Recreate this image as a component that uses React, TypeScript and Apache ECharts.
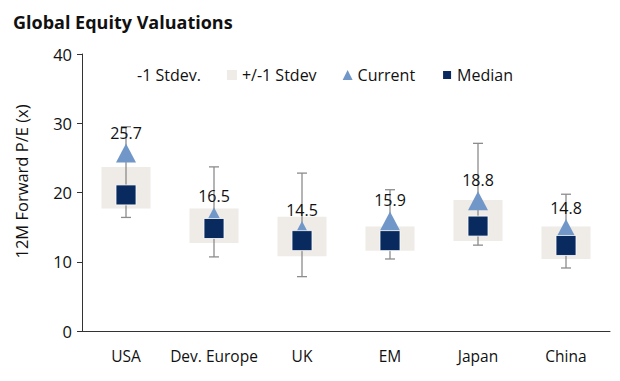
import React, { useEffect, useRef } from "react";
import * as echarts from "echarts";

const categories = ["USA", "Dev. Europe", "UK", "EM", "Japan", "China"];
const boxLow = [17.7, 12.7, 10.8, 11.6, 13.0, 10.4];
const boxHigh = [23.7, 17.7, 16.5, 15.1, 18.9, 15.1];
const whiskerLow = [16.4, 10.7, 7.85, 10.4, 12.4, 9.1];
const whiskerHigh = [29.5, 23.7, 22.8, 20.4, 27.1, 19.75];
const current = [25.7, 16.5, 14.5, 15.9, 18.8, 14.8];
const median = [19.65, 14.8, 13.05, 13.05, 15.15, 12.35];
const yTicks = { min: 0, max: 40, interval: 10 };

const FONT = "Open Sans";

export default function App() {
  const ref = useRef<HTMLDivElement>(null);
  useEffect(() => {
    if (!ref.current) return;
    const chart = echarts.init(ref.current, null, { renderer: "svg" });
    const boxRange = boxHigh.map((h, i) => +(h - boxLow[i]).toFixed(2));
    chart.setOption({
      animation: false,
      backgroundColor: "#fff",
      textStyle: { fontFamily: FONT },
      title: {
        text: "Global Equity Valuations",
        left: 8,
        top: 8,
        textStyle: { fontFamily: FONT, fontSize: 18, fontWeight: "bold", color: "#111" },
      },
      legend: {
        top: 62,
        left: 117,
        itemWidth: 10,
        itemHeight: 10,
        itemGap: 26,
        textStyle: { fontFamily: FONT, fontSize: 16, color: "#111" },
        data: [
          { name: "-1 Stdev.", icon: "rect" },
          { name: "+/-1 Stdev", icon: "rect" },
          { name: "Current", icon: "triangle" },
          { name: "Median", icon: "rect" },
        ],
      },
      grid: { left: 82, right: 10, top: 54, bottom: 50 },
      xAxis: {
        type: "category",
        data: categories,
        axisLine: { lineStyle: { color: "#333", width: 1 } },
        axisTick: { show: false },
        axisLabel: { interval: 0, fontFamily: FONT, fontSize: 15.5, color: "#111", margin: 17 },
      },
      yAxis: {
        type: "value",
        min: yTicks.min,
        max: yTicks.max,
        interval: yTicks.interval,
        name: "12M Forward P/E (x)",
        nameLocation: "middle",
        nameGap: 52,
        nameTextStyle: { fontFamily: FONT, fontSize: 16.5, color: "#111", padding: [0, 0, 0, 22] },
        axisLine: { show: true, lineStyle: { color: "#333", width: 1 } },
        axisTick: { show: true, length: 5, lineStyle: { color: "#333" } },
        splitLine: { show: false },
        axisLabel: { fontFamily: FONT, fontSize: 16.5, color: "#111", margin: 10 },
      },
      series: [
        {
          name: "-1 Stdev.",
          type: "bar",
          stack: "box",
          data: boxLow,
          barWidth: 49,
          itemStyle: { color: "rgba(0,0,0,0)" },
          silent: true,
        },
        {
          name: "+/-1 Stdev",
          type: "bar",
          stack: "box",
          data: boxRange,
          barWidth: 49,
          itemStyle: { color: "#EFEBE7" },
        },
        {
          name: "whisker",
          type: "custom",
          data: categories.map((_, i) => [i, whiskerLow[i], whiskerHigh[i]]),
          encode: { x: 0, y: [1, 2] },
          z: 3,
          renderItem: (params: any, api: any) => {
            const lo = api.coord([api.value(0), api.value(1)]);
            const hi = api.coord([api.value(0), api.value(2)]);
            const cw = 5;
            const style = { stroke: "#8C8C8C", lineWidth: 1.3 };
            return {
              type: "group",
              children: [
                { type: "line", shape: { x1: lo[0], y1: lo[1], x2: hi[0], y2: hi[1] }, style },
                { type: "line", shape: { x1: lo[0] - cw, y1: lo[1], x2: lo[0] + cw, y2: lo[1] }, style },
                { type: "line", shape: { x1: hi[0] - cw, y1: hi[1], x2: hi[0] + cw, y2: hi[1] }, style },
              ],
            };
          },
        },
        {
          name: "Current",
          type: "scatter",
          data: current,
          symbol: "triangle",
          symbolSize: [20, 19],
          z: 4,
          itemStyle: { color: "#7097C8", opacity: 1 },
          label: {
            show: true,
            position: "top",
            distance: 3,
            fontFamily: FONT,
            fontSize: 16,
            color: "#111",
            formatter: (p: any) => p.value.toFixed(1),
          },
        },
        {
          name: "Median",
          type: "scatter",
          data: median,
          symbol: "rect",
          symbolSize: 20,
          z: 5,
          itemStyle: { color: "#082A5E", opacity: 1, borderColor: "#ffffff", borderWidth: 0.8 },
        },
      ],
    });
    return () => chart.dispose();
  }, []);
  return (
    <div
      ref={ref}
      style={{ position: "fixed", left: 0, top: 0, width: 620, height: 381 }}
    />
  );
}
